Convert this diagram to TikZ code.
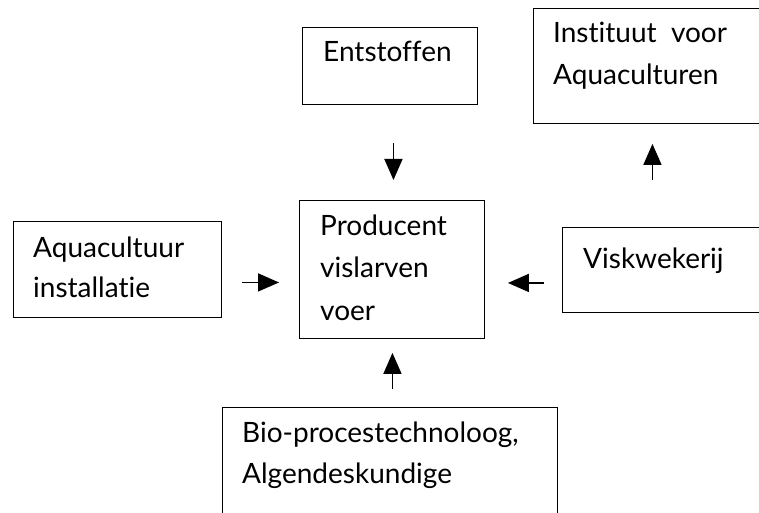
\documentclass[tikz,border=0pt]{standalone}
\usepackage{fontspec}
\setmainfont{Lato}[Ligatures={NoCommon}]
\usetikzlibrary{arrows.meta}
\begin{document}
\begin{tikzpicture}[x=1pt,y=-1pt,
    box/.style={draw,line width=0.9pt,anchor=north west,inner sep=0pt},
    txt/.style={anchor=base west,inner sep=0pt,font=\fontsize{28}{42}\selectfont},
    arr/.style={line width=1.6pt,-{Triangle[width=18pt,length=21pt]}}]
    \useasboundingbox (0,0) rectangle (759,513);
    \clip (0,0) rectangle (759,513);
    % boxes
    \node[box,minimum width=175pt,minimum height=77pt] (ent) at (302,27) {};
    \node[box,minimum width=250pt,minimum height=115pt] (inst) at (533,8) {};
    \node[box,minimum width=208pt,minimum height=96pt] (aqua) at (13,221) {};
    \node[box,minimum width=185pt,minimum height=138pt] (prod) at (299,200) {};
    \node[box,minimum width=220pt,minimum height=85pt] (vis) at (562,227) {};
    \node[box,minimum width=335pt,minimum height=130pt] (bio) at (222,407) {};
    % texts
    \node[txt] (enttxt) at (323,62) {Entstoffen};
    \node[txt] (insttxt1) at (553,43) {Instituut\ \ voor};
    \node[txt] (insttxt2) at (553,85) {Aquaculturen};
    \node[txt] (aquatxt1) at (33,257) {Aquacultuur};
    \node[txt] (aquatxt2) at (33,297) {installatie};
    \node[txt] (prodtxt1) at (320,235) {Producent};
    \node[txt] (prodtxt2) at (320,277) {vislarven};
    \node[txt] (prodtxt3) at (320,320) {voer};
    \node[txt] (vistxt) at (583,268) {Viskwekerij};
    \node[txt] (biotxt1) at (242,442) {Bio-procestechnoloog,};
    \node[txt] (biotxt2) at (242,483) {Algendeskundige};
    % arrows
    \draw[arr,shorten <=38pt,shorten >=20pt] ([xshift=3.5pt]ent.south) -- ([xshift=3.5pt]ent.south |- prod.north);
    \draw[arr,shorten <=47pt,shorten >=20pt] ([xshift=-20pt]vis.north) -- ([xshift=-20pt]vis.north |- inst.south);
    \draw[arr,shorten <=20pt,shorten >=20pt] ([yshift=-13pt]aqua.east) -- ([yshift=-13pt]aqua.east -| prod.west);
    \draw[arr,shorten <=18pt,shorten >=23pt] ([yshift=-13pt]vis.west) -- ([yshift=-13pt]vis.west -| prod.east);
    \draw[arr,shorten <=18pt,shorten >=14pt] ([xshift=2.5pt]bio.north) -- ([xshift=2.5pt]bio.north |- prod.south);
\end{tikzpicture}
\end{document}
